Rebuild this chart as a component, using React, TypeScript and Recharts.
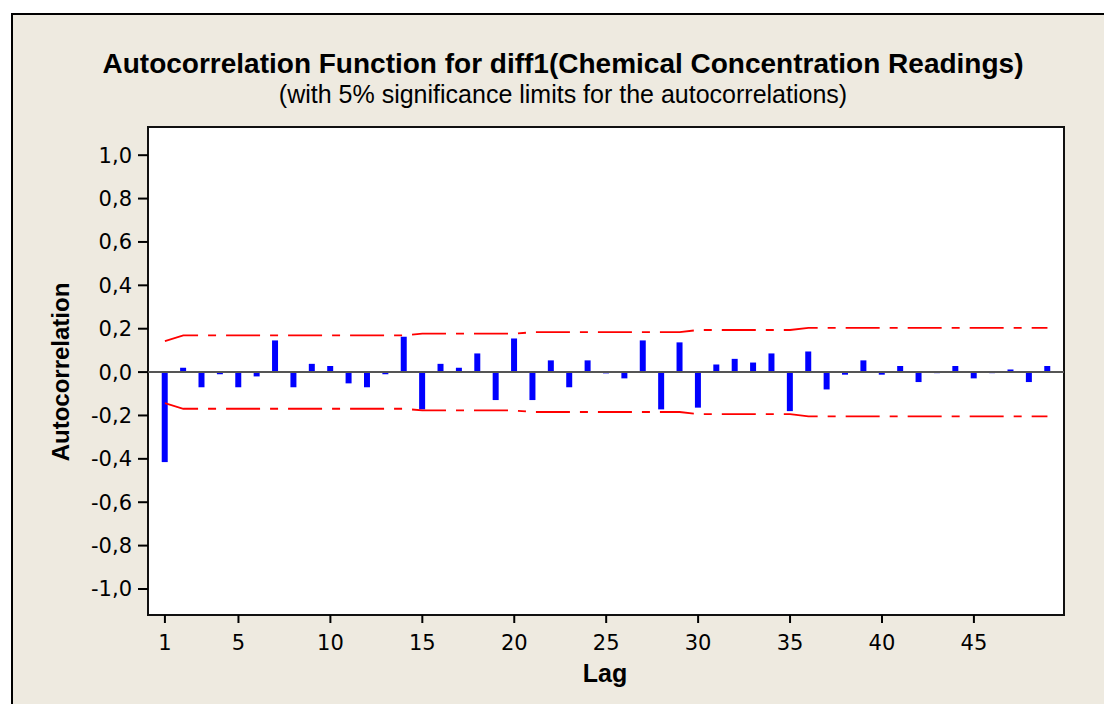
import React from "react";
import {
  ComposedChart,
  Bar,
  Line,
  XAxis,
  YAxis,
  ReferenceLine,
  ReferenceArea,
} from "recharts";

const lags = [
  1, 2, 3, 4, 5, 6, 7, 8, 9, 10, 11, 12, 13, 14, 15, 16, 17, 18, 19, 20, 21, 22, 23, 24, 25,
  26, 27, 28, 29, 30, 31, 32, 33, 34, 35, 36, 37, 38, 39, 40, 41, 42, 43, 44, 45, 46, 47, 48, 49,
];

const acf = [
  -0.415, 0.02, -0.07, -0.01, -0.07, -0.02, 0.146, -0.07, 0.038, 0.028,
  -0.052, -0.07, -0.01, 0.163, -0.172, 0.038, 0.02, 0.086, -0.129, 0.155,
  -0.129, 0.054, -0.07, 0.054, -0.006, -0.029, 0.146, -0.172, 0.137, -0.164,
  0.035, 0.061, 0.044, 0.086, -0.18, 0.095, -0.08, -0.012, 0.054, -0.012,
  0.028, -0.046, -0.005, 0.028, -0.029, -0.005, 0.012, -0.046, 0.028,
];

// upper 5% limit per lag (lower is the mirror)
const limit = [
  0.143, 0.169, 0.169, 0.169, 0.169, 0.169, 0.169, 0.169, 0.169, 0.169,
  0.169, 0.169, 0.169, 0.169, 0.177, 0.177, 0.177, 0.177, 0.177, 0.177,
  0.184, 0.184, 0.184, 0.184, 0.184, 0.184, 0.184, 0.184, 0.184, 0.194,
  0.194, 0.194, 0.194, 0.194, 0.194, 0.204, 0.204, 0.204, 0.204, 0.204,
  0.204, 0.204, 0.204, 0.204, 0.204, 0.204, 0.204, 0.204, 0.204,
];

const xTicks = [1, 5, 10, 15, 20, 25, 30, 35, 40, 45];
const yTicks = [-1, -0.8, -0.6, -0.4, -0.2, 0, 0.2, 0.4, 0.6, 0.8, 1];

const X_DOMAIN: [number, number] = [0.08, 49.9];
const Y_DOMAIN: [number, number] = [-1.12, 1.13];

const BG = "#EEEAE0";
const SANS = "'Liberation Sans', Arial, sans-serif";
const TICK_FONT = "'DejaVu Sans', sans-serif";

const data = lags.map((lag, i) => ({
  lag,
  acf: acf[i],
  upper: limit[i],
  lower: -limit[i],
}));

const fmt = (v: number) => v.toFixed(1).replace(".", ",");

export default function App() {
  return (
    <div
      style={{
        position: "absolute",
        left: 0,
        top: 0,
        width: 1104,
        height: 704,
        background: "#fff",
        overflow: "hidden",
      }}
    >
      <div
        style={{
          position: "absolute",
          left: 11,
          top: 13,
          width: 1100,
          height: 700,
          background: BG,
          borderLeft: "2px solid #000",
          borderTop: "2px solid #000",
        }}
      />
      <div style={{ position: "absolute", left: 0, top: 0 }}>
        <ComposedChart
          width={1104}
          height={704}
          data={data}
          margin={{ top: 127, right: 40, bottom: 49, left: 88 }}
        >
          <ReferenceArea
            x1={X_DOMAIN[0]}
            x2={X_DOMAIN[1]}
            y1={Y_DOMAIN[0]}
            y2={Y_DOMAIN[1]}
            fill="#fff"
            fillOpacity={1}
            stroke="#111"
            strokeWidth={2}
          />
          <XAxis
            dataKey="lag"
            type="number"
            domain={X_DOMAIN}
            allowDataOverflow
            ticks={xTicks}
            height={40}
            tickSize={8}
            tickMargin={12}
            axisLine={false}
            tickLine={{ stroke: "#000", strokeWidth: 2 }}
            tick={{ fontSize: 21, fill: "#000", fontFamily: TICK_FONT }}
          />
          <YAxis
            type="number"
            domain={Y_DOMAIN}
            allowDataOverflow
            ticks={yTicks}
            width={60}
            tickSize={10}
            tickMargin={6}
            axisLine={false}
            tickLine={{ stroke: "#000", strokeWidth: 2 }}
            tickFormatter={fmt}
            tick={{ fontSize: 21, fill: "#000", fontFamily: TICK_FONT }}
          />
          <ReferenceLine y={0} stroke="#555" strokeWidth={2} />
          <Bar dataKey="acf" fill="#0000FF" barSize={6} isAnimationActive={false} />
          <Line
            type="linear"
            dataKey="upper"
            stroke="#FF0000"
            strokeWidth={1.8}
            strokeDasharray="34 10 8 10"
            dot={false}
            isAnimationActive={false}
          />
          <Line
            type="linear"
            dataKey="lower"
            stroke="#FF0000"
            strokeWidth={1.8}
            strokeDasharray="34 10 8 10"
            dot={false}
            isAnimationActive={false}
          />
        </ComposedChart>
      </div>
      <svg
        width={1104}
        height={704}
        style={{ position: "absolute", left: 0, top: 0, pointerEvents: "none" }}
      >
        <text x={563} y={73} textAnchor="middle" fontFamily={SANS} fontWeight="bold" fontSize={28} fill="#000">
          Autocorrelation Function for diff1(Chemical Concentration Readings)
        </text>
        <text x={563} y={103} textAnchor="middle" fontFamily={SANS} fontSize={25} fill="#000">
          (with 5% significance limits for the autocorrelations)
        </text>
        <text
          x={69}
          y={372}
          transform="rotate(-90 69 372)"
          textAnchor="middle"
          fontFamily={SANS}
          fontWeight="bold"
          fontSize={24}
          fill="#000"
        >
          Autocorrelation
        </text>
        <text x={605} y={682} textAnchor="middle" fontFamily={SANS} fontWeight="bold" fontSize={25} fill="#000">
          Lag
        </text>
      </svg>
    </div>
  );
}
